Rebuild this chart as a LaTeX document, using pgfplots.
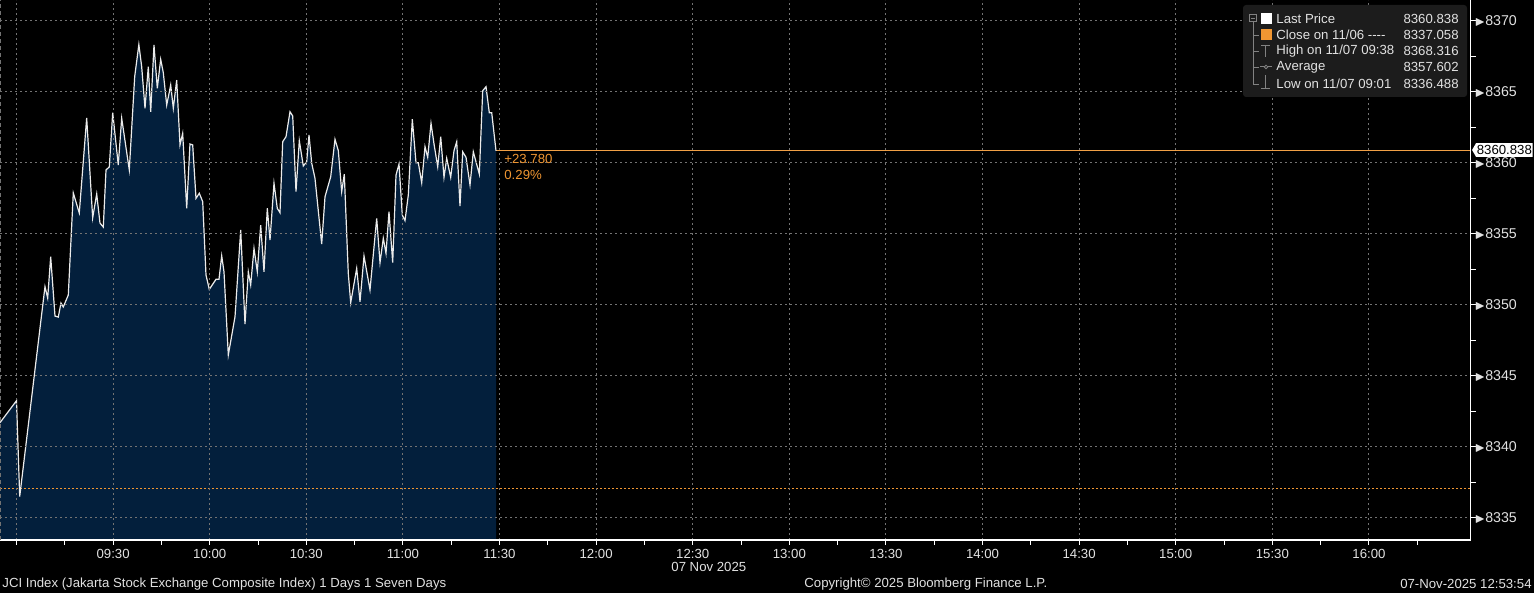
\documentclass[border=0pt]{standalone}
\usepackage{fontspec}
\setmainfont{Liberation Sans}
\usepackage{amssymb}
\usepackage{pgfplots}
\usepackage{pgfplotstable}
\pgfplotsset{compat=1.18}
\usetikzlibrary{shapes.symbols}
\definecolor{bbnavy}{RGB}{3,31,60}
\definecolor{bbgrid}{RGB}{115,115,115}
\definecolor{bborange}{RGB}{240,150,50}
\definecolor{bbtext}{RGB}{225,225,225}
\definecolor{legbg}{RGB}{28,28,28}
\definecolor{treegray}{RGB}{130,130,130}
\newcommand{\bbfont}{\fontsize{6.6pt}{7.4pt}\selectfont}

% JCI intraday, x = minutes after 09:00
\pgfplotstableread{
t v
-5.12 8341.69
0 8343.24
1 8336.49
8.85 8351.27
9.69 8350.47
10.62 8353.38
11.96 8349.20
12.98 8349.13
13.82 8350.12
14.53 8349.84
16.09 8350.68
17.64 8357.87
19.50 8356.46
21.80 8363.15
23.66 8356.11
24.91 8357.80
25.93 8355.75
26.96 8355.47
27.80 8359.49
28.82 8359.70
29.88 8363.52
31.61 8359.84
32.67 8363.13
35.03 8359.49
36.71 8366.06
38.00 8368.32
38.88 8366.76
39.91 8363.83
40.93 8366.76
41.68 8363.59
42.70 8368.29
43.73 8365.24
44.78 8367.28
45.59 8366.34
46.65 8364.06
47.89 8365.47
48.70 8363.83
49.75 8365.82
50.78 8361.25
51.61 8362.07
52.86 8356.79
53.88 8361.32
54.72 8361.25
55.75 8357.49
56.77 8357.85
57.83 8357.25
58.85 8352.09
59.88 8351.08
61.96 8351.79
62.89 8351.79
63.73 8353.45
64.44 8352.32
65.78 8346.46
67.86 8349.15
69.63 8355.26
70.96 8348.64
71.99 8352.32
72.73 8351.39
73.76 8353.97
74.78 8352.32
75.84 8355.61
76.86 8352.32
77.89 8356.79
78.73 8354.56
79.97 8358.55
80.99 8356.79
81.83 8356.48
82.67 8361.48
83.70 8361.83
84.94 8363.59
85.78 8363.29
86.80 8357.96
87.83 8361.55
89.07 8359.77
90.12 8360.07
90.84 8361.95
91.68 8359.96
92.70 8358.90
94.78 8354.27
95.81 8357.61
97.58 8359.01
98.91 8361.65
99.94 8360.85
100.99 8357.96
101.80 8359.20
103.04 8352.21
103.79 8350.14
105.65 8352.56
106.68 8350.21
107.92 8353.43
109.78 8351.04
111.86 8356.08
112.89 8352.96
113.91 8354.68
114.75 8353.62
115.68 8356.55
116.83 8352.96
117.86 8359.13
118.79 8359.91
119.81 8356.32
120.65 8355.92
121.68 8357.73
122.92 8363.06
124.07 8360.00
124.78 8360.00
125.84 8358.59
126.86 8361.13
127.70 8360.38
128.73 8362.77
129.66 8361.32
130.81 8359.72
131.74 8361.83
132.76 8358.97
133.60 8360.31
134.84 8358.97
135.87 8360.85
136.71 8361.48
137.73 8356.95
138.57 8360.77
139.60 8360.38
140.84 8358.43
141.86 8360.77
143.73 8359.20
144.78 8365.07
145.81 8365.35
146.83 8363.52
147.58 8363.52
148.91 8360.84
}\jci

\begin{document}
\begin{tikzpicture}
\path[use as bounding box, fill=black] (0pt,0pt) rectangle (767pt,296.5pt);

\begin{axis}[
    at={(0pt,26.5pt)}, anchor=south west,
    scale only axis, width=735.35pt, height=270pt,
    xmin=-5.12, xmax=451.6,
    ymin=8333.43, ymax=8371.46,
    axis x line*=bottom, axis y line*=right,
    axis line style={white, line width=0.6pt, -},
    axis on top,
    xtick={0,30,...,420},
    xticklabels={,09:30,10:00,10:30,11:00,11:30,12:00,12:30,13:00,13:30,14:00,14:30,15:00,15:30,16:00},
    minor xtick={15,45,...,435},
    ytick={8335,8340,...,8370},
    minor ytick={8337.5,8342.5,...,8367.5},
    grid=major,
    major grid style={bbgrid, line width=0.5pt, dash pattern=on 1pt off 1.5pt},
    tick align=outside,
    major tick length=2.5pt, minor tick length=2.5pt,
    tick style={white, line width=0.5pt},
    ticklabel style={font=\bbfont, text=bbtext},
    xticklabel style={yshift=1.6pt},
    yticklabel style={inner sep=0pt, xshift=-0.8pt, font=\fontsize{7.1pt}{8pt}\selectfont},
    yticklabel={{\scalebox{0.85}{$\blacktriangleright$}}\pgfmathprintnumber{\tick}},
    /pgf/number format/.cd, 1000 sep={}, assume math mode=true,
]
\addplot[fill=bbnavy, draw=none] table[x=t, y=v] {\jci}
    -- (axis cs:148.91,8333.43) -- (axis cs:-5.12,8333.43) -- cycle;
\addplot[bborange, line width=0.9pt, dash pattern=on 0.9pt off 1.1pt] coordinates {(-5.12,8337.058) (451.6,8337.058)};
\addplot[bborange!90!white, line width=0.5pt] coordinates {(148.91,8360.838) (451.6,8360.838)};
\addplot[white!92!black, line width=0.6pt] table[x=t, y=v] {\jci};
\end{axis}

% left dashed edge
\draw[bbgrid, line width=0.8pt, dash pattern=on 2pt off 1.5pt] (0.3pt,26.5pt) -- (0.3pt,296.5pt);

% change annotation
\node[anchor=west, text=bborange, font=\bbfont, inner sep=0pt] at (252pt,217pt) {+23.780};
\node[anchor=west, text=bborange, font=\bbfont, inner sep=0pt] at (252pt,209pt) {0.29\%};

% last price tag
\node[signal, signal to=west, signal pointer angle=120, fill=white, text=black,
      font=\bbfont, inner xsep=0.4pt, inner ysep=1.1pt, anchor=west] at (735.8pt,221.5pt) {8360.838};

% legend
\fill[legbg, rounded corners=1.5pt] (621.5pt,294pt) rectangle (733.5pt,248pt);
\draw[treegray, line width=0.4pt] (624.7pt,285.6pt) rectangle (628.3pt,289.2pt);
\draw[treegray, line width=0.4pt] (625.4pt,287.4pt) -- (627.6pt,287.4pt);
\draw[treegray, line width=0.4pt] (626.5pt,285.6pt) -- (626.5pt,254.5pt);
\foreach \ry in {279,271,263,254.5} \draw[treegray, line width=0.4pt] (626.5pt,\ry pt) -- (629.5pt,\ry pt);
\fill[white] (630.3pt,284.25pt) rectangle (635.8pt,289.75pt);
\fill[bborange] (630.3pt,276.25pt) rectangle (635.8pt,281.75pt);
\draw[treegray, line width=0.5pt] (630.6pt,273.6pt) -- (634.8pt,273.6pt) (632.7pt,273.6pt) -- (632.7pt,268.2pt);
\draw[treegray, line width=0.5pt] (630pt,263pt) -- (636pt,263pt);
\draw[treegray, line width=0.4pt, fill=legbg] (633pt,263pt) circle (0.9pt);
\draw[treegray, line width=0.5pt] (632.7pt,258.8pt) -- (632.7pt,252.3pt) (630.6pt,252.3pt) -- (634.8pt,252.3pt);
\begin{scope}[every node/.style={font=\bbfont, text=bbtext, inner sep=0pt}]
\node[anchor=west] at (638pt,287pt) {Last Price};
\node[anchor=west] at (638pt,279pt) {Close on 11/06 -{}-{}-{}-};
\node[anchor=west] at (638pt,271pt) {High on 11/07 09:38};
\node[anchor=west] at (638pt,263pt) {Average};
\node[anchor=west] at (638pt,254.5pt) {Low on 11/07 09:01};
\node[anchor=east] at (729.5pt,287pt) {8360.838};
\node[anchor=east] at (729.5pt,279pt) {8337.058};
\node[anchor=east] at (729.5pt,271pt) {8368.316};
\node[anchor=east] at (729.5pt,263pt) {8357.602};
\node[anchor=east] at (729.5pt,254.5pt) {8336.488};
% date and footer
\node[anchor=west] at (335.5pt,13pt) {07 Nov 2025};
\node[anchor=west] at (1pt,4.5pt) {JCI Index (Jakarta Stock Exchange Composite Index) 1 Days 1 Seven Days};
\node[anchor=west] at (402pt,4.5pt) {Copyright© 2025 Bloomberg Finance L.P.};
\node[anchor=east] at (766pt,4.5pt) {07-Nov-2025 12:53:54};
\end{scope}
\end{tikzpicture}
\end{document}
